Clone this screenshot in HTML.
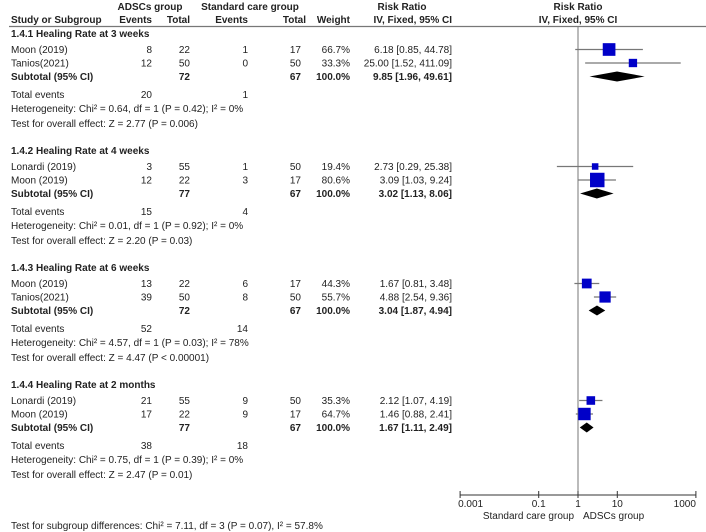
<!DOCTYPE html>
<html><head><meta charset="utf-8"><style>
body{margin:0;background:#fff;}
svg{display:block;font-family:"Liberation Sans",Arial,sans-serif;font-size:10px;fill:#222;}
.b{font-weight:bold;}
</style></head><body>
<svg id="chart" width="706" height="532" viewBox="0 0 706 532"></svg>
<script>
const groupTitles=["1.4.1 Healing Rate at 3 weeks","1.4.2 Healing Rate at 4 weeks","1.4.3 Healing Rate at 6 weeks","1.4.4 Healing Rate at 2 months"];
const studyNames=[["Moon (2019)","Tanios(2021)"],["Lonardi (2019)","Moon (2019)"],["Moon (2019)","Tanios(2021)"],["Lonardi (2019)","Moon (2019)"]];
const expEvents=[[8,12],[3,12],[13,39],[21,17]];
const expTotal=[[22,50],[55,22],[22,50],[55,22]];
const ctlEvents=[[1,0],[1,3],[6,8],[9,9]];
const ctlTotal=[[17,50],[50,17],[17,50],[50,17]];
const weights=[[66.7,33.3],[19.4,80.6],[44.3,55.7],[35.3,64.7]];
const rr=[[6.18,25.00],[2.73,3.09],[1.67,4.88],[2.12,1.46]];
const lo=[[0.85,1.52],[0.29,1.03],[0.81,2.54],[1.07,0.88]];
const hi=[[44.78,411.09],[25.38,9.24],[3.48,9.36],[4.19,2.41]];
const subRR=[9.85,3.02,3.04,1.67];
const subLo=[1.96,1.13,1.87,1.11];
const subHi=[49.61,8.06,4.94,2.49];
const subExpTotal=[72,77,72,77];
const subCtlTotal=[67,67,67,67];
const totExp=[20,15,52,38];
const totCtl=[1,4,14,18];
const hetText=["Heterogeneity: Chi² = 0.64, df = 1 (P = 0.42); I² = 0%","Heterogeneity: Chi² = 0.01, df = 1 (P = 0.92); I² = 0%","Heterogeneity: Chi² = 4.57, df = 1 (P = 0.03); I² = 78%","Heterogeneity: Chi² = 0.75, df = 1 (P = 0.39); I² = 0%"];
const testText=["Test for overall effect: Z = 2.77 (P = 0.006)","Test for overall effect: Z = 2.20 (P = 0.03)","Test for overall effect: Z = 4.47 (P < 0.00001)","Test for overall effect: Z = 2.47 (P = 0.01)"];
const tickVals=[0.001,0.1,1,10,1000];
const tickLabels=["0.001","0.1","1","10","1000"];

const svg=document.getElementById('chart');
const NS="http://www.w3.org/2000/svg";
function el(tag,attrs,parent){const e=document.createElementNS(NS,tag);for(const k in attrs)e.setAttribute(k,attrs[k]);(parent||svg).appendChild(e);return e;}
function txt(x,y,s,anchor,cls){const t=el('text',{x:x,y:y,'text-anchor':anchor||'start'});if(cls)t.setAttribute('class',cls);t.textContent=s;return t;}
const xScale=v=>578+Math.log10(v)*39.3;
const fmt=v=>v.toFixed(2);

let h;
h=txt(150,10,"ADSCs group","middle","b");
h=txt(250,10,"Standard care group","middle","b");
h=txt(402,10,"Risk Ratio","middle","b");
h=txt(578,10,"Risk Ratio","middle","b");
const hdr=[[11,"Study or Subgroup","start"],[152,"Events","end"],[190,"Total","end"],[248,"Events","end"],[306,"Total","end"],[350,"Weight","end"],[452,"IV, Fixed, 95% CI","end"],[578,"IV, Fixed, 95% CI","middle"]];
hdr.forEach(a=>{const t=txt(a[0],23,a[1],a[2],"b");});
const hl=el('line',{x1:9,y1:26.5,x2:706,y2:26.5,stroke:'#777','stroke-width':1.2});

const zl=el('line',{x1:578,y1:27,x2:578,y2:495,stroke:'#777','stroke-width':1});


const groupY=[37,154,271,388];
groupTitles.forEach((g,gi)=>{
  const y0=groupY[gi];
  const t=txt(11,y0,g,'start','b');
  
  studyNames[gi].forEach((n,si)=>{
    const y=y0+16+si*13.5;
    const row=[[11,n,'start'],[152,expEvents[gi][si],'end'],[190,expTotal[gi][si],'end'],[248,ctlEvents[gi][si],'end'],[301,ctlTotal[gi][si],'end'],[350,weights[gi][si].toFixed(1)+'%','end'],[452,fmt(rr[gi][si])+' ['+fmt(lo[gi][si])+', '+fmt(hi[gi][si])+']','end']];
    row.forEach(a=>{const r=txt(a[0],y,a[1],a[2]);});
    const cy=y-3.5;
    const ci=el('line',{x1:xScale(lo[gi][si]),y1:cy,x2:Math.min(xScale(hi[gi][si]),700),y2:cy,stroke:'#777','stroke-width':1.3});
    
    const s=4+0.13*weights[gi][si];
    const sq=el('rect',{x:xScale(rr[gi][si])-s/2,y:cy-s/2,width:s,height:s,fill:'#0000c8'});
    
  });
  const ys=y0+43;
  const sub=[[11,'Subtotal (95% CI)','start'],[190,subExpTotal[gi],'end'],[301,subCtlTotal[gi],'end'],[350,'100.0%','end'],[452,fmt(subRR[gi])+' ['+fmt(subLo[gi])+', '+fmt(subHi[gi])+']','end']];
  sub.forEach(a=>{const r=txt(a[0],ys,a[1],a[2],'b');});
  const dy=ys-3.5;
  const d=el('polygon',{points:`${xScale(subLo[gi])},${dy} ${xScale(subRR[gi])},${dy-5} ${xScale(subHi[gi])},${dy} ${xScale(subRR[gi])},${dy+5}`,fill:'#000'});
  
  const yt=y0+61;
  [[11,'Total events','start'],[152,totExp[gi],'end'],[248,totCtl[gi],'end']].forEach(a=>{const r=txt(a[0],yt,a[1],a[2]);});
  const he=txt(11,y0+75,hetText[gi]);
  const te=txt(11,y0+90,testText[gi]);
});

const ax=el('line',{x1:xScale(0.001),y1:495,x2:xScale(1000),y2:495,stroke:'#333','stroke-width':1});

tickVals.forEach((v,i)=>{
  const tk=el('line',{x1:xScale(v),y1:491,x2:xScale(v),y2:498,stroke:'#333'});
  
  const lb=txt(xScale(v),507,tickLabels[i],i==0?'start':(i==tickLabels.length-1?'end':'middle'));
  if(i==0)lb.setAttribute('x',xScale(v)-2);
  
});
const l1=txt(574,519,'Standard care group','end');
const l2=txt(583,519,'ADSCs group','start');
const ft=txt(11,529,'Test for subgroup differences: Chi² = 7.11, df = 3 (P = 0.07), I² = 57.8%');

</script>
</body></html>
